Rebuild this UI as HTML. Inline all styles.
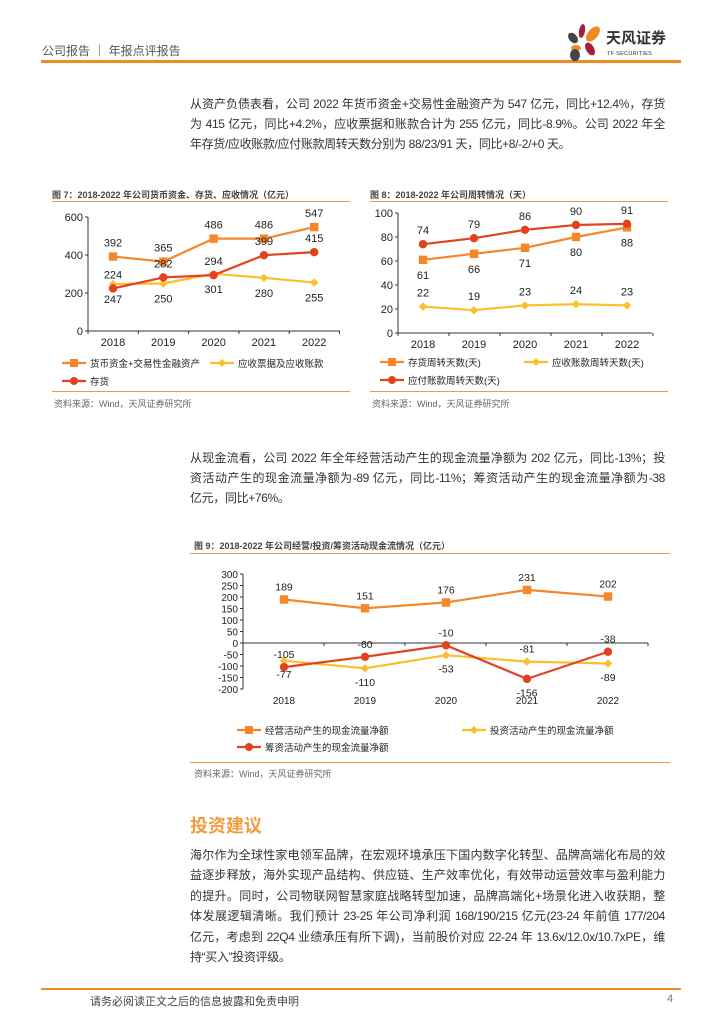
<!DOCTYPE html>
<html><head><meta charset="utf-8">
<style>
body{margin:0;background:#fff;}
#page{position:relative;width:724px;height:1024px;overflow:hidden;font-family:"Liberation Sans","Noto Sans CJK SC",sans-serif;color:#333;}
.abs{position:absolute;white-space:nowrap;}
.para{position:absolute;left:190px;width:475px;font-size:12px;letter-spacing:-0.35px;color:#333;text-align:justify;text-align-last:justify;white-space:nowrap;overflow:visible;}
.hl{position:absolute;height:2px;background:#F39A3C;}
.ttl{font-size:9px;font-weight:bold;color:#444;}
.src{font-size:9px;color:#666;}
svg text{font-family:"Liberation Sans","Noto Sans CJK SC",sans-serif;}
</style></head><body>
<div id="page">
<div class="abs" style="left:42px;top:42px;font-size:12px;color:#555;">公司报告 ｜ 年报点评报告</div>
<div class="hl" style="left:41px;top:60px;width:640px;height:2.5px;background:#F08A22;"></div>
<svg class="abs" style="left:566px;top:20px" width="40" height="42">
<ellipse cx="16" cy="11" rx="3" ry="7" fill="#A51E3A" transform="rotate(10 16 11)"/>
<ellipse cx="27" cy="14" rx="5" ry="9" fill="#F08A22" transform="rotate(40 27 14)"/>
<ellipse cx="7" cy="18" rx="4" ry="6" fill="#444" transform="rotate(-40 7 18)"/>
<ellipse cx="10" cy="28" rx="5" ry="3" fill="#F08A22"/>
<ellipse cx="24" cy="29" rx="4" ry="7" fill="#A51E3A" transform="rotate(-30 24 29)"/>
<ellipse cx="9" cy="35" rx="5" ry="6" fill="#444"/>
</svg>
<div class="abs" style="left:606px;top:31px;font-size:15px;line-height:16px;font-weight:bold;color:#333;">天风证券</div>
<div class="abs" style="left:607px;top:51px;font-size:5.5px;line-height:6px;color:#333;letter-spacing:0.3px;">TF SECURITIES</div>

<div class="para" style="top:95px">从资产负债表看，公司 2022 年货币资金+交易性金融资产为 547 亿元，同比+12.4%，存货</div>
<div class="para" style="top:115px">为 415 亿元，同比+4.2%，应收票据和账款合计为 255 亿元，同比-8.9%。公司 2022 年全</div>
<div class="para" style="top:135px;width:auto;text-align-last:auto">年存货/应收账款/应付账款周转天数分别为 88/23/91 天，同比+8/-2/+0 天。</div>

<div class="abs ttl" style="left:52px;top:188px">图 7：2018-2022 年公司货币资金、存货、应收情况（亿元）</div>
<div class="hl" style="left:52px;top:201px;width:298px;height:1px"></div>
<div class="abs ttl" style="left:370px;top:188px">图 8：2018-2022 年公司周转情况（天）</div>
<div class="hl" style="left:370px;top:201px;width:298px;height:1px"></div>
<svg id="c7" class="abs" style="left:0;top:0" width="724" height="1024"></svg>
<div class="hl" style="left:52px;top:391px;width:298px;height:1px"></div>
<div class="hl" style="left:370px;top:391px;width:298px;height:1px"></div>
<div class="abs src" style="left:54px;top:397px">资料来源：Wind，天风证券研究所</div>
<div class="abs src" style="left:372px;top:397px">资料来源：Wind，天风证券研究所</div>

<div class="para" style="top:449px">从现金流看，公司 2022 年全年经营活动产生的现金流量净额为 202 亿元，同比-13%；投</div>
<div class="para" style="top:469px">资活动产生的现金流量净额为-89 亿元，同比-11%；筹资活动产生的现金流量净额为-38</div>
<div class="para" style="top:489px;width:auto;text-align-last:auto">亿元，同比+76%。</div>

<div class="abs ttl" style="left:194px;top:539px">图 9：2018-2022 年公司经营/投资/筹资活动现金流情况（亿元）</div>
<div class="hl" style="left:190px;top:553px;width:480px;height:1px"></div>
<div class="hl" style="left:190px;top:762px;width:480px;height:1px"></div>
<div class="abs src" style="left:194px;top:767px">资料来源：Wind，天风证券研究所</div>

<div class="abs" style="left:190px;top:812px;font-size:18px;font-weight:bold;color:#F39A3C;">投资建议</div>
<div class="para" style="top:846px">海尔作为全球性家电领军品牌，在宏观环境承压下国内数字化转型、品牌高端化布局的效</div>
<div class="para" style="top:866px">益逐步释放，海外实现产品结构、供应链、生产效率优化，有效带动运营效率与盈利能力</div>
<div class="para" style="top:887px">的提升。同时，公司物联网智慧家庭战略转型加速，品牌高端化+场景化进入收获期，整</div>
<div class="para" style="top:907px">体发展逻辑清晰。我们预计 23-25 年公司净利润 168/190/215 亿元(23-24 年前值 177/204</div>
<div class="para" style="top:928px">亿元，考虑到 22Q4 业绩承压有所下调)，当前股价对应 22-24 年 13.6x/12.0x/10.7xPE，维</div>
<div class="para" style="top:948px;width:auto;text-align-last:auto">持“买入”投资评级。</div>

<div class="hl" style="left:41px;top:988px;width:640px;height:1.5px;background:#F08A22"></div>
<div class="abs" style="left:90px;top:993px;font-size:11px;color:#444">请务必阅读正文之后的信息披露和免责申明</div>
<div class="abs" style="left:667px;top:993px;font-size:11px;color:#777">4</div>
</div>
<script>
var years=["2018","2019","2020","2021","2022"];
// Figure 7 (亿元)
var f7Cash=[392,365,486,486,547];
var f7Recv=[247,250,301,280,255];
var f7Inv=[224,282,294,399,415];
var f7Ticks=[0,200,400,600];
// Figure 8 (天)
var f8InvDays=[61,66,71,80,88];
var f8RecvDays=[22,19,23,24,23];
var f8PayDays=[74,79,86,90,91];
var f8Ticks=[0,20,40,60,80,100];
// Figure 9 (亿元)
var f9Op=[189,151,176,231,202];
var f9Invest=[-77,-110,-53,-81,-89];
var f9Fin=[-105,-60,-10,-156,-38];
var f9Ticks=[-200,-150,-100,-50,0,50,100,150,200,250,300];

var NS="http://www.w3.org/2000/svg";
var svg=document.getElementById('c7');
var C_OR="#F5872A",C_YE="#FBBF2C",C_RD="#E2421E";
function mk(tag,at,parent){var e=document.createElementNS(NS,tag);for(var k in at)e.setAttribute(k,at[k]);(parent||svg).appendChild(e);return e;}
function txt(x,y,s,size,anchor){var t=mk('text',{x:x,y:y,'font-size':size,fill:'#222','text-anchor':anchor||'middle'});t.textContent=s;return t;}
function marker(kind,x,y,col,sz){
  if(kind==='sq')return mk('rect',{x:x-sz,y:y-sz,width:2*sz,height:2*sz,fill:col});
  if(kind==='ci')return mk('circle',{cx:x,cy:y,r:sz,fill:col});
  return mk('path',{d:'M'+x+' '+(y-sz)+'L'+(x+sz)+' '+y+'L'+x+' '+(y+sz)+'L'+(x-sz)+' '+y+'Z',fill:col});
}
function chart(cfg){
  var sx=function(i){return cfg.x0+i*cfg.dx;};
  var sy=function(v){return cfg.yb-(v-cfg.vmin)/(cfg.vmax-cfg.vmin)*(cfg.yb-cfg.yt);};
  var g=mk('g',{});
  
  
  mk('line',{x1:cfg.ax,y1:sy(cfg.vmax),x2:cfg.ax,y2:sy(cfg.vmin),stroke:'#333','stroke-width':1},g);
  mk('line',{x1:cfg.ax,y1:sy(cfg.xaxisV),x2:cfg.axEnd,y2:sy(cfg.xaxisV),stroke:'#333','stroke-width':1},g);
  cfg.ticks.forEach(function(v){
    mk('line',{x1:cfg.ax-3,y1:sy(v),x2:cfg.ax,y2:sy(v),stroke:'#333'},g);
    var t=txt(cfg.ax-5,sy(v)+4,String(v),cfg.fs,'end');
    
    
  });
  for(var i=0;i<=years.length;i++){var xx=cfg.ax+i*cfg.dx;mk('line',{x1:xx,y1:sy(cfg.xaxisV),x2:xx,y2:sy(cfg.xaxisV)+3,stroke:'#333'},g);}
  years.forEach(function(y,i){
    var t=txt(sx(i),cfg.xly,y,cfg.fs);
    
    
  });
  cfg.series.forEach(function(s){
    var d=s.vals.map(function(v,i){return (i?'L':'M')+sx(i)+' '+sy(v);}).join('');
    var p=mk('path',{d:d,fill:'none',stroke:s.col,'stroke-width':2.2});
    
    
    s.vals.forEach(function(v,i){
      var m=marker(s.mk,sx(i),sy(v),s.col,4.2);
      
      
      var up=s.place?s.place[i]==='u':s.up;
      var lt=txt(sx(i),sy(v)+(up?-cfg.off:cfg.off+cfg.lfs-2),String(v),cfg.lfs);
      
      
    });
    var lx=s.lx,ly=s.ly;
    var lg=mk('g',{});
    
    
    mk('line',{x1:lx,y1:ly,x2:lx+24,y2:ly,stroke:s.col,'stroke-width':2.2},lg);
    var mm=marker(s.mk,lx+12,ly,s.col,4);lg.appendChild(mm);
    var tt=txt(lx+28,ly+4,s.label,cfg.legfs,'start');lg.appendChild(tt);
  });
}
chart({name:'figure7',ax:88,axEnd:340,x0:113,dx:50.3,yt:217,yb:331,vmin:0,vmax:600,xaxisV:0,ticks:f7Ticks,fs:11,lfs:11,legfs:9.5,off:10,xly:346,
 series:[
  {name:'cash-assets',vals:f7Cash,col:C_OR,mk:'sq',up:true,label:'货币资金+交易性金融资产',lx:62,ly:363},
  {name:'receivables',vals:f7Recv,col:C_YE,mk:'di',up:false,label:'应收票据及应收账款',lx:210,ly:363},
  {name:'inventory',vals:f7Inv,col:C_RD,mk:'ci',up:true,label:'存货',lx:62,ly:381}]});
chart({name:'figure8',ax:398,axEnd:652,x0:423,dx:51,yt:213,yb:333,vmin:0,vmax:100,xaxisV:0,ticks:f8Ticks,fs:11,lfs:11,legfs:9.5,off:10,xly:348,
 series:[
  {name:'inventory-days',vals:f8InvDays,col:C_OR,mk:'sq',up:false,label:'存货周转天数(天)',lx:380,ly:362},
  {name:'receivable-days',vals:f8RecvDays,col:C_YE,mk:'di',up:true,label:'应收账款周转天数(天)',lx:524,ly:362},
  {name:'payable-days',vals:f8PayDays,col:C_RD,mk:'ci',up:true,label:'应付账款周转天数(天)',lx:380,ly:380}]});
chart({name:'figure9',ax:243,axEnd:648,x0:284,dx:81,yt:574,yb:689,vmin:-200,vmax:300,xaxisV:0,ticks:f9Ticks,fs:10,lfs:10.5,legfs:9.5,off:9,xly:704,
 series:[
  {name:'operating-cashflow',vals:f9Op,col:C_OR,mk:'sq',up:true,label:'经营活动产生的现金流量净额',lx:237,ly:730},
  {name:'investing-cashflow',vals:f9Invest,col:C_YE,mk:'di',place:['d','d','d','u','d'],label:'投资活动产生的现金流量净额',lx:462,ly:730},
  {name:'financing-cashflow',vals:f9Fin,col:C_RD,mk:'ci',place:['u','u','u','d','u'],label:'筹资活动产生的现金流量净额',lx:237,ly:747}]});
</script>
</body></html>
